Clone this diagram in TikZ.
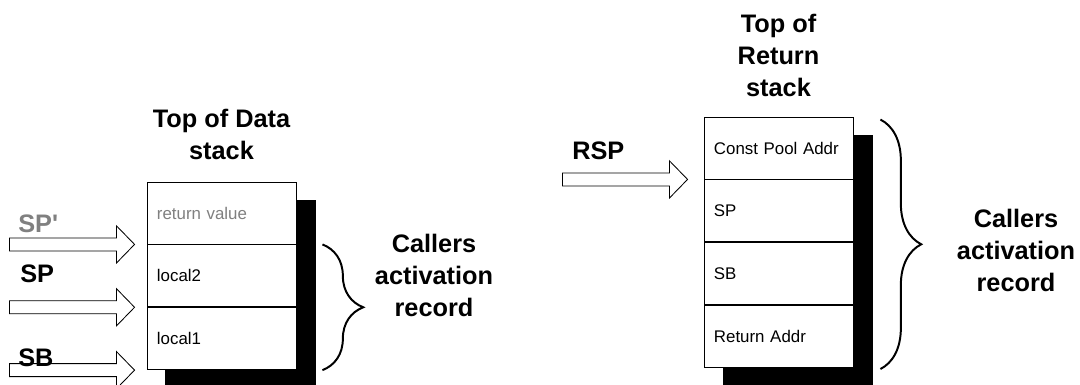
\documentclass[tikz,border=0pt]{standalone}
\usepackage{fontspec}
\setmainfont{Liberation Sans}[Ligatures=TeXOff]
\usetikzlibrary{positioning,calc,backgrounds,decorations.pathreplacing}
\definecolor{oldgray}{gray}{0.5}
\tikzset{
  cell/.style={draw, line width=0.6pt, fill=white, minimum height=1.55cm,
    text width=3.225cm, inner xsep=0.25cm, inner ysep=0pt, align=left,
    font=\fontsize{12}{14}\selectfont},
  lbl/.style={font=\bfseries\fontsize{18}{22}\selectfont, inner sep=0pt},
  stacktitle/.style={align=center, inner sep=0pt,
    font=\bfseries\fontsize{18}{22.8}\selectfont},
  curly/.style={decorate, decoration={brace, amplitude=1.02cm}, line width=1.4pt},
  fatarrow/.pic={
    \draw[line width=0.6pt, fill=white] (-125,-6.5) -- (-18,-6.5) -- (-18,-18.5)
      -- (0,0) -- (-18,18.5) -- (-18,6.5) -- (-125,6.5) -- cycle;
  }
}
\begin{document}
\begin{tikzpicture}[x=0.025cm, y=-0.025cm]
  \useasboundingbox (0,0) rectangle (1080,385);
  % data stack
  \node[cell, text=oldgray] (ret) at (221.5,213) {return value};
  \node[cell, below=0pt of ret] (loc2) {local2};
  \node[cell, below=0pt of loc2] (loc1) {local1};
  \node[stacktitle, above=15.5pt of ret] (datatop) {Top of Data\\stack};
  % return stack
  \node[cell] (cpa) at (778.5,148) {Const Pool Addr};
  \node[cell, below=0pt of cpa] (rsp) {SP};
  \node[cell, below=0pt of rsp] (rsb) {SB};
  \node[cell, below=0pt of rsb] (radr) {Return Addr};
  \node[stacktitle, above=14pt of cpa] (rettop) {Top of\\Return\\stack};
  % shadows
  \begin{scope}[on background layer]
    \fill ($(ret.north west)+(18,18)$) rectangle ($(loc1.south east)+(20,18)$);
    \fill ($(cpa.north west)+(19,18)$) rectangle ($(radr.south east)+(20,18)$);
  \end{scope}
  % pointers
  \pic at ($(ret.south west)+(-12,0)$) {fatarrow};
  \pic at ($(loc2.south west)+(-12,0)$) {fatarrow};
  \pic at ($(loc1.south west)+(-12,0)$) {fatarrow};
  \pic at ($(cpa.south west)+(-16,0)$) {fatarrow};
  \node[lbl, text=oldgray, anchor=base west] (spold) at (18,233) {SP'};
  \node[lbl, anchor=base west] (spnew) at (20,283) {SP};
  \node[lbl, anchor=base west] (sbnew) at (18,367) {SB};
  \node[lbl, anchor=base west] (rspl) at (572,160) {RSP};
  % activation records
  \draw[curly] ($(loc2.north east)+(26,0)$) -- ($(loc1.south east)+(26,0)$);
  \draw[curly] ($(cpa.north east)+(27,3)$) -- ($(radr.south east)+(27,1)$);
  \node[stacktitle] (datarec) at (434,275.5) {Callers\\activation\\record};
  \node[stacktitle] (retrec) at (1016,250.5) {Callers\\activation\\record};
\end{tikzpicture}
\end{document}
